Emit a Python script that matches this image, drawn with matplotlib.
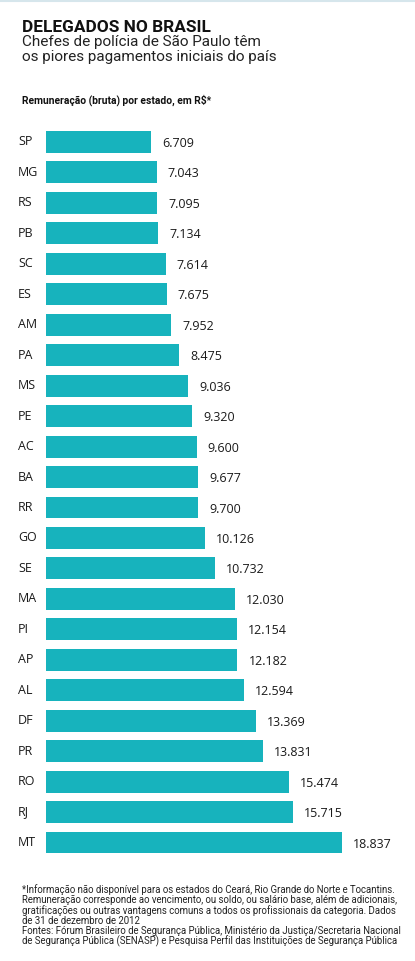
import matplotlib
matplotlib.use("Agg")
import matplotlib.pyplot as plt
from matplotlib.transforms import blended_transform_factory

states = ["SP", "MG", "RS", "PB", "SC", "ES", "AM", "PA", "MS", "PE", "AC", "BA",
          "RR", "GO", "SE", "MA", "PI", "AP", "AL", "DF", "PR", "RO", "RJ", "MT"]
values = [6709, 7043, 7095, 7134, 7614, 7675, 7952, 8475, 9036, 9320, 9600, 9677,
          9700, 10126, 10732, 12030, 12154, 12182, 12594, 13369, 13831, 15474, 15715, 18837]

title = "DELEGADOS NO BRASIL"
subtitle = "Chefes de polícia de São Paulo têm\nos piores pagamentos iniciais do país"
axis_title = "Remuneração (bruta) por estado, em R$*"
footnote = ("*Informação não disponível para os estados do Ceará, Rio Grande do Norte e Tocantins.\n"
            "Remuneração corresponde ao vencimento, ou soldo, ou salário base, além de adicionais,\n"
            "gratificações ou outras vantagens comuns a todos os profissionais da categoria. Dados\n"
            "de 31 de dezembro de 2012\n"
            "Fontes: Fórum Brasileiro de Segurança Pública, Ministério da Justiça/Secretaria Nacional\n"
            "de Segurança Pública (SENASP) e Pesquisa Perfil das Instituições de Segurança Pública")

W, H = 415, 961
bar_color = "#17b3bd"
plt.rcParams["font.family"] = ["Open Sans", "DejaVu Sans"]
narrow = ["Roboto", "DejaVu Sans"]

fig = plt.figure(figsize=(W / 100, H / 100), dpi=100)
fig.patch.set_facecolor("white")

x0, x1 = 46, 415
xmax = (x1 - x0) * 18837 / 296
top_px, bot_px = 126.75, 857.75
ax = fig.add_axes([x0 / W, 1 - bot_px / H, (x1 - x0) / W, (bot_px - top_px) / H])
ypos = list(range(len(states)))
ax.barh(ypos, values, height=0.72, color=bar_color)
ax.set_xlim(0, xmax)
ax.set_ylim(len(states) - 0.5, -0.5)
ax.axis("off")

for y, v in zip(ypos, values):
    ax.text(v + 700, y + 0.05, f"{v:,}".replace(",", "."), va="center", ha="left",
            fontsize=9, color="#1a1a1a")

trans = blended_transform_factory(fig.transFigure, ax.transData)
for y, s in zip(ypos, states):
    ax.text(18 / W, y, s, transform=trans, va="center", ha="left", fontsize=9, color="#1a1a1a")

fig.text(22 / W, 1 - 20 / H, title, fontsize=12.4, fontweight="bold", va="top", ha="left",
         color="#111111", family=narrow)
fig.text(22 / W, 1 - 35 / H, subtitle, fontsize=11.0, va="top", ha="left", color="#222222",
         linespacing=1.05, family=narrow)
fig.text(22 / W, 1 - 94 / H, axis_title, fontsize=7.4, fontweight="bold", va="top", ha="left",
         color="#111111", family=narrow)
fig.text(22 / W, 1 - 884 / H, footnote, fontsize=6.9, va="top", ha="left", color="#222222",
         linespacing=1.0, family=narrow)

fig.add_artist(plt.Line2D([0, 1], [1 - 1 / H, 1 - 1 / H], color="#d6e6ec", lw=1.5))

fig.savefig("out.png", dpi=100)
